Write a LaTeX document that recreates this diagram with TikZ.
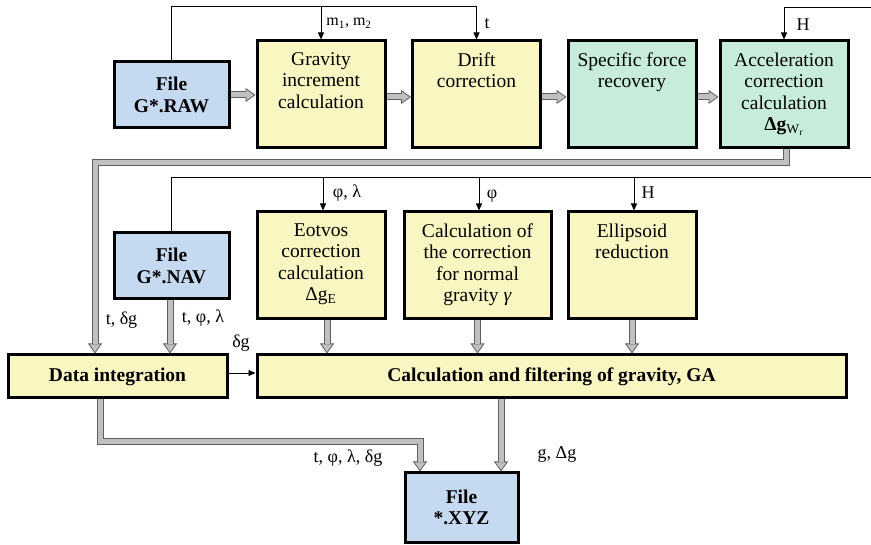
\documentclass[tikz,border=0pt]{standalone}
\usepackage{fontspec}
\setmainfont{Liberation Serif}
\usetikzlibrary{arrows.meta}

\definecolor{fileblue}{RGB}{197,217,241}
\definecolor{calcyellow}{RGB}{250,246,193}
\definecolor{recgreen}{RGB}{199,236,218}
\definecolor{bandgray}{RGB}{192,192,192}
\definecolor{banddark}{RGB}{95,95,95}

\newcommand{\boxfont}{\fontsize{19.5}{21.5}\selectfont}
\newcommand{\toptext}[2]{\parbox[c][84pt][t]{#1}{\centering #2}}

\tikzset{
	blk/.style={draw, line width=3pt, inner sep=0pt, align=center},
	filebox/.style={blk, fill=fileblue, minimum width=115pt, minimum height=66pt, font=\boxfont\bfseries},
	stepbox/.style={blk, fill=calcyellow, minimum width=128pt, minimum height=107pt},
	recbox/.style={stepbox, fill=recgreen},
	barbox/.style={blk, fill=calcyellow, minimum height=43pt, font=\boxfont\bfseries},
	wire/.style={line width=0.8pt},
	sig/.style={wire, -{Triangle[length=7pt,width=6pt]}},
	flow/.style={line width=7pt, draw=banddark,
		-{Triangle[length=10pt,width=14pt,line width=0.8pt,fill=bandgray]},
		postaction={draw=bandgray, line width=5pt, -, shorten >=9pt}},
	lbl/.style={inner sep=0pt, font=\fontsize{18}{20}\selectfont}
}

\begin{document}
\begin{tikzpicture}[x=1pt, y=-1pt, font=\boxfont]
	\useasboundingbox (0,0) rectangle (871,545);
	
	% Upper chain
	\node[filebox] (raw) at (171.5,95) {File\\G*.RAW};
	\node[stepbox] (gravinc) at (321,94.5) {\toptext{124pt}{Gravity\\increment\\calculation}};
	\node[stepbox] (drift) at (476.5,94.5) {\toptext{124pt}{Drift\\correction}};
	\node[recbox] (sforce) at (632,94.5) {\toptext{124pt}{Specific force\\recovery}};
	\node[recbox] (accel) at (784,94.5) {\toptext{124pt}{Acceleration\\correction\\calculation\\\textbf{Δg}\textsubscript{W\textsubscript{r}}}};
	
	% Navigation chain
	\node[filebox] (nav) at (171.5,266) {File\\G*.NAV};
	\node[stepbox] (eotvos) at (321,265.5) {\toptext{124pt}{Eotvos\\correction\\calculation\\Δg\textsubscript{E}}};
	\node[stepbox, minimum width=147pt] (normgrav) at (477.5,265.5) {\toptext{143pt}{Calculation of\\the correction\\for normal\\gravity \textit{γ}}};
	\node[stepbox] (ellips) at (632,265.5) {\toptext{124pt}{Ellipsoid\\reduction}};
	
	% Integration and output
	\node[barbox, minimum width=219pt] (dataint) at (117.5,376.5) {Data integration};
	\node[barbox, minimum width=589pt] (calcfilt) at (551.5,376.5) {Calculation and filtering of gravity, GA};
	\node[filebox, minimum width=113pt, minimum height=69pt] (xyz) at (461.5,507.5) {File\\*.XYZ};
	
	% Thin feeds
	\coordinate (rawbus) at (0,6);
	\coordinate (hbus) at (871,7);
	\coordinate (navbus) at (871,177);
	\draw[sig] (raw.north) |- (rawbus -| drift.north) -- (drift.north);
	\draw[sig] (gravinc.north |- rawbus) -- (gravinc.north);
	\draw[sig] (hbus) -| (accel.north);
	\draw[wire] (nav.north) |- (navbus);
	\draw[sig] ([xshift=2pt]eotvos.north |- navbus) -- ([xshift=2pt]eotvos.north);
	\draw[sig] ([xshift=1.5pt]normgrav.north |- navbus) -- ([xshift=1.5pt]normgrav.north);
	\draw[sig] ([xshift=2pt]ellips.north |- navbus) -- ([xshift=2pt]ellips.north);
	\draw[sig] ([yshift=3.5pt]dataint.east) -- ([yshift=3.5pt]calcfilt.west);
	
	% Gray flows
	\draw[flow] (raw.east) -- (raw.east -| gravinc.west);
	\draw[flow] ([yshift=-2.5pt]gravinc.east) -- ([yshift=-2.5pt]drift.west);
	\draw[flow] ([yshift=-2.5pt]drift.east) -- ([yshift=-2.5pt]sforce.west);
	\draw[flow] ([yshift=-2.5pt]sforce.east) -- ([yshift=-2.5pt]accel.west);
	\coordinate (gbus) at (95,163);
	\draw[flow] ([xshift=2pt]accel.south) |- (gbus) -- (gbus |- dataint.north);
	\draw[flow] ([xshift=-1.5pt]nav.south) -- ([xshift=-1.5pt]nav.south |- dataint.north);
	\draw[flow] ([xshift=6pt]eotvos.south) -- ([xshift=6pt]eotvos.south |- calcfilt.north);
	\draw[flow] (normgrav.south) -- (normgrav.south |- calcfilt.north);
	\draw[flow] (ellips.south) -- (ellips.south |- calcfilt.north);
	\draw[flow] ([xshift=-17.5pt]dataint.south) -- ++(0,42) -| ([xshift=-41.5pt]xyz.north);
	\draw[flow] ([xshift=39.5pt]xyz.north |- calcfilt.south) -- ([xshift=39.5pt]xyz.north);
	
	% Labels
	\node[lbl, font=\fontsize{16}{18}\selectfont] (lmm) at (349,23) {m\textsubscript{1}, m\textsubscript{2}};
	\node[lbl] (lt) at (487,24) {t};
	\node[lbl] (lh) at (803,25) {H};
	\node[lbl] (lpl) at (347,193) {φ, λ};
	\node[lbl] (lp) at (492,196) {φ};
	\node[lbl] (lh2) at (648,193) {H};
	\node[lbl] (ltdg) at (121.5,320) {t, δg};
	\node[lbl] (ltpl) at (203,318) {t, φ, λ};
	\node[lbl] (ldg) at (241,343) {δg};
	\node[lbl] (lout) at (348,458) {t, φ, λ, δg};
	\node[lbl] (lgdg) at (557,455) {g, Δg};
	
\end{tikzpicture}
\end{document}
